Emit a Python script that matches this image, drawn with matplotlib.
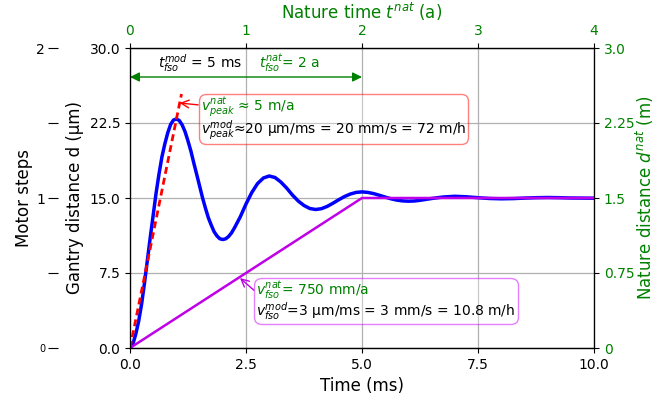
import matplotlib
matplotlib.use('Agg')
import matplotlib.pyplot as plt
from matplotlib.offsetbox import TextArea, VPacker, AnnotationBbox

plt.rcParams['font.family'] = ['DejaVu Sans']
plt.rcParams['mathtext.fontset'] = 'dejavusans'

# gantry response (time in ms, distance in um)
t_resp = [0, 0.0625, 0.125, 0.1875, 0.25, 0.3125, 0.375, 0.4375, 0.5, 0.5625,
          0.625, 0.6875, 0.75, 0.8125, 0.875, 0.9375, 1.0, 1.0625, 1.125, 1.1875,
          1.25, 1.3125, 1.375, 1.4375, 1.5, 1.5625, 1.625, 1.6875, 1.75, 1.8125,
          1.875, 1.9375, 2.0, 2.0625, 2.125, 2.1875, 2.25, 2.375, 2.5, 2.625,
          2.75, 2.875, 3.0, 3.125, 3.25, 3.375, 3.5, 3.625, 3.75, 3.875,
          4.0, 4.125, 4.25, 4.375, 4.5, 4.625, 4.75, 4.875, 5.0, 5.125,
          5.25, 5.375, 5.5, 5.625, 5.75, 5.875, 6.0, 6.125, 6.25, 6.375,
          6.5, 6.75, 7.0, 7.25, 7.5, 7.75, 8.0, 8.25, 8.5, 8.75,
          9.0, 9.25, 9.5, 9.75, 10.0]
d_resp = [0.0, 0.4, 1.4, 2.7, 4.4, 6.5, 8.8, 11.1, 13.3, 15.5,
          17.4, 19.1, 20.4, 21.5, 22.35, 22.8, 22.9, 22.75, 22.3, 21.62,
          20.7, 19.69, 18.5, 17.36, 16.2, 15.03, 14.0, 13.04, 12.3, 11.63,
          11.2, 10.92, 10.85, 10.92, 11.15, 11.51, 12.0, 13.1, 14.4, 15.55,
          16.45, 17.0, 17.2, 17.05, 16.6, 16.0, 15.3, 14.7, 14.25, 13.95,
          13.85, 13.93, 14.16, 14.48, 14.83, 15.15, 15.4, 15.56, 15.61, 15.56,
          15.44, 15.27, 15.09, 14.92, 14.79, 14.71, 14.68, 14.7, 14.77, 14.86,
          14.95, 15.1, 15.17, 15.12, 15.03, 14.95, 14.92, 14.94, 14.99, 15.03,
          15.05, 15.03, 15.0, 14.99, 14.98]

# peak slope line and constant speed ramp
t_peak = [0, 1.11]
d_peak = [0, 25.4]
t_ramp = [0, 5, 10]
d_ramp = [0, 15, 15]

x_ticks = [0, 2.5, 5, 7.5, 10]
y_ticks = [0, 7.5, 15, 22.5, 30]
nat_t_ticks = [0, 1, 2, 3, 4]
nat_d_ticks = [0, 0.75, 1.5, 2.25, 3.0]
nat_d_labels = ['0', '0.75', '1.5', '2.25', '3.0']
step_ticks = [0, 0.5, 1, 1.5, 2]
step_labels = ['0', '', '1', '', '2']

green = 'green'
violet = '#c000e8'

fig = plt.figure(figsize=(6.64, 3.97), dpi=100)
ax = fig.add_axes([130/664, 1-348/397, 464/664, 300/397])

ax.plot(t_resp, d_resp, color='blue', lw=2.5, zorder=3)
ax.plot(t_peak, d_peak, color='red', ls=(0, (2.5, 1.5)), lw=2, zorder=4)
ax.plot(t_ramp, d_ramp, color=violet, lw=1.8, zorder=3)

ax.set_xlim(0, 10)
ax.set_ylim(0, 30)
ax.set_xticks(x_ticks)
ax.set_xticklabels(['0.0', '2.5', '5.0', '7.5', '10.0'])
ax.set_yticks(y_ticks)
ax.set_yticklabels(['0.0', '7.5', '15.0', '22.5', '30.0'])
ax.tick_params(labelsize=10)
ax.grid(True, color='#b0b0b0', lw=0.9)
ax.set_xlabel('Time (ms)', fontsize=12)
ax.set_ylabel('Gantry distance d (µm)', fontsize=12)

# fso time span
ax.annotate('', xy=(0, 27.1), xytext=(5, 27.1),
            arrowprops=dict(arrowstyle='<|-|>', color=green, lw=1, mutation_scale=14,
                            shrinkA=0, shrinkB=0))
ax.text(1.5, 28.5, r'$t_{fso}^{mod}$ = 5 ms', fontsize=10, ha='center', va='center')
ax.text(3.45, 28.5, r'$t_{fso}^{nat}$= 2 a', fontsize=10, ha='center', va='center',
        color=green)

# peak speed box
peak_box = VPacker(children=[
    TextArea(r'$v_{peak}^{nat}$ ≈ 5 m/a', textprops=dict(color=green, fontsize=10)),
    TextArea(r'$v_{peak}^{mod}$≈20 µm/ms = 20 mm/s = 72 m/h', textprops=dict(fontsize=10)),
], align='left', pad=0, sep=-0.8)
ab = AnnotationBbox(peak_box, (1.07, 24.5), xybox=(4.385, 22.9), xycoords='data',
                    boxcoords='data', pad=0.12,
                    bboxprops=dict(boxstyle='round,pad=0.15,rounding_size=0.55',
                                   ec=(1, 0, 0, 0.5), fc=(1, 1, 1, 0.3)),
                    arrowprops=dict(arrowstyle='->', color='red', relpos=(0, 0.8),
                                    shrinkA=0, shrinkB=0))
ax.add_artist(ab)

# fso speed box
fso_box = VPacker(children=[
    TextArea(r'$v_{fso}^{nat}$= 750 mm/a', textprops=dict(color=green, fontsize=10)),
    TextArea(r'$v_{fso}^{mod}$=3 µm/ms = 3 mm/s = 10.8 m/h', textprops=dict(fontsize=10)),
], align='left', pad=0, sep=-0.8)
ab2 = AnnotationBbox(fso_box, (2.37, 7.0), xybox=(5.52, 4.7), xycoords='data',
                     boxcoords='data', pad=0.12,
                     bboxprops=dict(boxstyle='round,pad=0.15,rounding_size=0.55',
                                    ec=(0.8, 0, 1, 0.5), fc=(1, 1, 1, 0.3)),
                     arrowprops=dict(arrowstyle='->', color=violet, relpos=(0, 0.7),
                                     shrinkA=0, shrinkB=0))
ax.add_artist(ab2)

# nature time on top
ax_top = ax.twiny()
ax_top.set_xlim(0, 4)
ax_top.set_xticks(nat_t_ticks)
ax_top.tick_params(labelsize=10, labelcolor=green)
ax_top.set_xlabel('Nature time $t^{nat}$ (a)', fontsize=12, color=green)

# nature distance on the right
ax_right = ax.twinx()
ax_right.set_ylim(0, 3)
ax_right.set_yticks(nat_d_ticks)
ax_right.set_yticklabels(nat_d_labels)
ax_right.tick_params(labelsize=10, labelcolor=green)
ax_right.set_ylabel('Nature distance $d^{nat}$ (m)', fontsize=12, color=green, labelpad=0)

# motor steps, offset to the far left
ax_steps = ax.twinx()
ax_steps.set_ylim(0, 2)
ax_steps.yaxis.set_ticks_position('left')
ax_steps.yaxis.set_label_position('left')
ax_steps.spines['left'].set_position(('outward', 52))
ax_steps.spines['left'].set_visible(False)
ax_steps.spines['right'].set_visible(False)
ax_steps.set_yticks(step_ticks)
ax_steps.set_yticklabels(step_labels)
ax_steps.tick_params(axis='y', length=7.2, pad=2, labelsize=10)
for i in (1, 3):
    ax_steps.yaxis.get_major_ticks()[i].tick1line.set_color('#999999')
ax_steps.get_yticklabels()[0].set_fontsize(7)
ax_steps.set_ylabel('Motor steps', fontsize=12, labelpad=2)

fig.savefig('out.png', dpi=100)
